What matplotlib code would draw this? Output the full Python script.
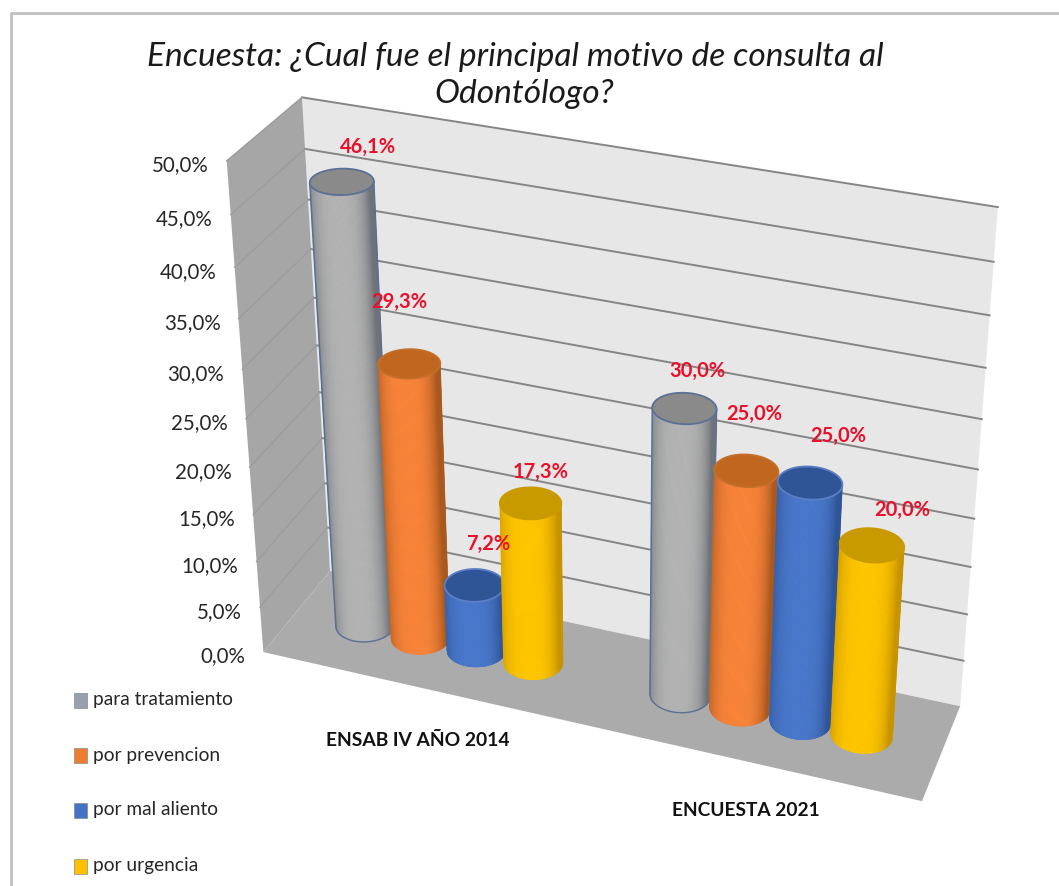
import numpy as np
import matplotlib
matplotlib.use("Agg")
import matplotlib.pyplot as plt
from matplotlib.collections import PolyCollection
from matplotlib.colors import to_rgb
from matplotlib.patches import Polygon, Rectangle

plt.rcParams["font.family"] = ["Lato", "DejaVu Sans"]

categories = ["ENSAB IV AÑO 2014", "ENCUESTA 2021"]
series_names = ["para tratamiento", "por prevencion", "por mal aliento", "por urgencia"]
values_2014 = [46.1, 29.3, 7.2, 17.3]
values_2021 = [30.0, 25.0, 25.0, 20.0]
y_ticks = [0, 5, 10, 15, 20, 25, 30, 35, 40, 45, 50]
title_lines = ["Encuesta: ¿Cual fue el principal motivo de consulta al", "Odontólogo?"]

# side centre, side edge, cap, outline
light = ["#b4b4b4", "#f9843a", "#4a78cc", "#ffc600"]
dark = ["#6f7378", "#a9591f", "#2f5597", "#c79400"]
cap = ["#8a8a8a", "#c0661f", "#2f5597", "#c89a00"]
rim = ["#5a7096", "#c4702a", "#5b7fc4", "#c89a00"]
legend_col = ["#98a0ae", "#ed7d31", "#4472c4", "#ffc000"]

# box coordinates (along, depth, value) -> pixel anchors for the 3D view
anchors = [
    ((0, 0, 0), (264, 652)), ((0, 0, 50), (227, 162)), ((0, 1, 50), (302, 97)),
    ((0, 1, 0), (330, 572)), ((1, 1, 0), (960, 705)), ((1, 1, 50), (998, 207)),
    ((1, 0, 0), (922, 802)), ((1, 1, 25), (978, 470)), ((0, 0, 25), (245, 417)),
]


def fit_camera(pts):
    A, b = [], []
    for (x, y, z), (px, py) in pts:
        A.append([x, y, z, 1, 0, 0, 0, 0, -px * x, -px * y, -px * z])
        A.append([0, 0, 0, 0, x, y, z, 1, -py * x, -py * y, -py * z])
        b += [px, py]
    sol = np.linalg.lstsq(np.array(A, float), np.array(b, float), rcond=None)[0]
    return np.append(sol, 1).reshape(3, 4)


cam = fit_camera(anchors)


def project(x, w, v):
    x, w, v = np.broadcast_arrays(x, w, v)
    pts = np.stack([x, w, v, np.ones_like(x, dtype=float)], axis=-1)
    h = pts @ cam.T
    return h[..., 0] / h[..., 2], h[..., 1] / h[..., 2]


def xy(x, w, v):
    return np.column_stack(project(np.atleast_1d(x), np.atleast_1d(w), np.atleast_1d(v)))


fig = plt.figure(figsize=(10.59, 8.86), dpi=100)
ax = fig.add_axes([0, 0, 1, 1])
ax.set_xlim(0, 1059)
ax.set_ylim(886, 0)
ax.axis("off")

# outer frame, open at the bottom and right
ax.plot([11, 11, 1059], [886, 13, 13], color="#c0c0c0", lw=2.0, zorder=0)

# walls and floor
ax.add_patch(Polygon(xy([0, 1, 1, 0], [1, 1, 1, 1], [0, 0, 50, 50]), fc="#e7e7e7", ec="none", zorder=1))
ax.add_patch(Polygon(xy([0, 0, 0, 0], [0, 1, 1, 0], [0, 0, 50, 50]), fc="#a6a6a6", ec="none", zorder=1))
ax.add_patch(Polygon(xy([0, 1, 1, 0], [0, 0, 1, 1], [0, 0, 0, 0]), fc="#ababab", ec="none", zorder=1))

for t in y_ticks:
    if t > 0:
        ax.plot(*xy([0, 1], [1, 1], [t, t]).T, color="#858585", lw=1.4, zorder=2)
        ax.plot(*xy([0, 0], [0, 1], [t, t]).T, color="#9c9c9c", lw=1.0, zorder=2)
    px, py = project(0, 0, t)
    ax.text(px - 18, py + 4.5, f"{t:.1f}%".replace(".", ","), ha="right", va="center",
            fontsize=14.8, color="#262626")

# cylinders
group_centres = [0.248, 0.748]
pitch = 0.0905
r_along = 0.044
r_depth = 0.185
base_depth = 0.5
theta = np.linspace(0, 2 * np.pi, 360, endpoint=False)


def front_arc(x0, value):
    # ring at one height, plus its lower half on screen running left to right
    ring = xy(x0 + r_along * np.cos(theta), base_depth + r_depth * np.sin(theta), np.full_like(theta, value))
    a, b = ring[:, 0].argmin(), ring[:, 0].argmax()
    rolled = np.roll(ring, -a, axis=0)
    k = (b - a) % len(ring)
    arc1 = rolled[:k + 1]
    arc2 = np.vstack([rolled[k:], rolled[:1]])[::-1]
    return (arc1 if arc1[:, 1].mean() > arc2[:, 1].mean() else arc2), ring


def cylinder(x0, value, i, z):
    bottom, _ = front_arc(x0, 0)
    upper, top = front_arc(x0, value)
    ax.add_patch(Polygon(np.vstack([bottom, upper[::-1]]), fc=dark[i], ec="none", zorder=z))
    s_b = np.linspace(bottom[0, 0], bottom[-1, 0], 61)
    s_t = np.linspace(upper[0, 0], upper[-1, 0], 61)
    y_b = np.interp(s_b, bottom[:, 0], bottom[:, 1])
    y_t = np.interp(s_t, upper[:, 0], upper[:, 1])
    quads, cols = [], []
    for k in range(60):
        quads.append([(s_b[k], y_b[k]), (s_b[k + 1], y_b[k + 1]), (s_t[k + 1], y_t[k + 1]), (s_t[k], y_t[k])])
        t = (2 * k + 1) / 60 - 1
        mix = min(1.0, abs(t + 0.12) ** 3.2)
        cols.append(tuple((1 - mix) * np.array(to_rgb(light[i])) + mix * np.array(to_rgb(dark[i]))))
    ax.add_collection(PolyCollection(quads, facecolors=cols, edgecolors=cols, linewidths=0.5, zorder=z + 0.05))
    ax.add_patch(Polygon(top, fc=cap[i], ec=rim[i], lw=1.3, zorder=z + 0.2))
    if i == 0:
        # the grey series also has a thin outline down the sides and round the base
        ax.plot([bottom[0, 0], upper[0, 0]], [bottom[0, 1], upper[0, 1]], color=rim[0], lw=1.1, zorder=z + 0.1)
        ax.plot([bottom[-1, 0], upper[-1, 0]], [bottom[-1, 1], upper[-1, 1]], color=rim[0], lw=1.1, zorder=z + 0.1)
        ax.plot(bottom[:, 0], bottom[:, 1], color=rim[0], lw=1.0, zorder=z + 0.1)


label_offsets = [[(26, -35), (-10, -62), (14, -41), (10, -31)],
                 [(13, -37), (8, -57), (28, -47), (30, -35)]]
labels = []
z = 3
for g, vals in enumerate([values_2014, values_2021]):
    for i, val in enumerate(vals):
        x0 = group_centres[g] + (i - 1.5) * pitch
        cylinder(x0, val, i, z)
        z += 1
        px, py = project(x0, base_depth, val)
        dx, dy = label_offsets[g][i]
        labels.append((px + dx, py + dy, f"{val:.1f}%".replace(".", ",")))

for px, py, s in labels:
    ax.text(px, py, s, color="#e8102a", fontweight="bold", fontsize=14.5, ha="center", va="center", zorder=20)

# category names under the floor
ax.text(418, 740, categories[0], fontweight="bold", fontsize=13.9, ha="center", va="center", color="#111111")
ax.text(746, 811, categories[1], fontweight="bold", fontsize=13.8, ha="center", va="center", color="#111111")

# legend down the left side
legend_y = [700, 755, 810, 866]
for name, col, ly in zip(series_names, legend_col, legend_y):
    ax.add_patch(Rectangle((74, ly - 7.5), 13, 15, fc=col, ec="#8a8a8a", lw=0.5))
    ax.text(93, ly, name, fontsize=13.8, va="center", ha="left", color="#262626")

ax.text(515, 57, title_lines[0], style="italic", fontsize=24.1, ha="center", va="center", color="#1a1a1a")
ax.text(524, 94, title_lines[1], style="italic", fontsize=24.1, ha="center", va="center", color="#1a1a1a")

fig.savefig("out.png", dpi=100)
